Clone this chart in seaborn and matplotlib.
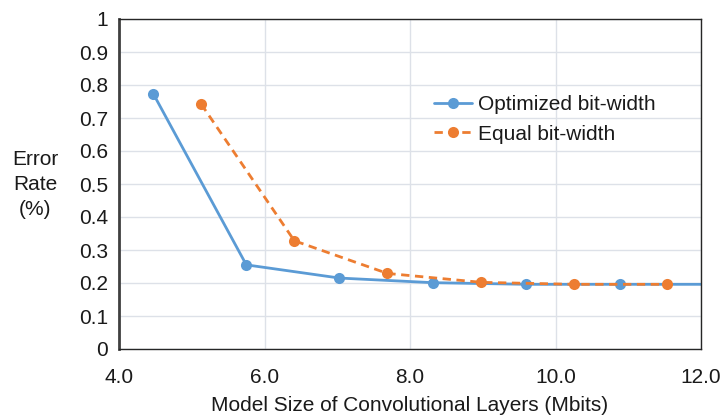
import matplotlib
matplotlib.use("Agg")
import matplotlib.pyplot as plt
import seaborn as sns
import pandas as pd

# Data
opt_size = [4.47, 5.75, 7.03, 8.31, 9.60, 10.88, 12.16]
opt_err = [0.774, 0.255, 0.215, 0.201, 0.196, 0.196, 0.196]
eq_size = [5.13, 6.41, 7.69, 8.98, 10.25, 11.53]
eq_err = [0.742, 0.328, 0.229, 0.202, 0.196, 0.196]
series_names = ["Optimized bit-width", "Equal bit-width"]
x_ticks = [4.0, 6.0, 8.0, 10.0, 12.0]
y_ticks = [0, 0.1, 0.2, 0.3, 0.4, 0.5, 0.6, 0.7, 0.8, 0.9, 1]

df = pd.concat([
    pd.DataFrame({"size": opt_size, "err": opt_err, "series": series_names[0]}),
    pd.DataFrame({"size": eq_size, "err": eq_err, "series": series_names[1]}),
], ignore_index=True)

sns.set_style("white")
plt.rcParams["font.family"] = ["Liberation Sans", "DejaVu Sans"]
plt.rcParams["text.color"] = "#1a1a1a"
plt.rcParams["xtick.color"] = "#1a1a1a"
plt.rcParams["ytick.color"] = "#1a1a1a"
plt.rcParams["axes.labelcolor"] = "#1a1a1a"

FS = 15

fig = plt.figure(figsize=(7.25, 4.18), dpi=100)
ax = fig.add_axes([119/725, 1-349/418, (701-119)/725, (349-19)/418])

palette = {series_names[0]: "#5B9BD5", series_names[1]: "#ED7D31"}
sns.lineplot(data=df, x="size", y="err", hue="series", style="series",
             palette=palette, dashes={series_names[0]: "", series_names[1]: (3, 2)},
             markers={series_names[0]: "o", series_names[1]: "o"},
             markersize=8, markeredgewidth=0, linewidth=2.0, sort=False,
             ax=ax)

ax.set_xlim(4.0, 12.0)
ax.set_ylim(0, 1)
ax.set_xticks(x_ticks)
ax.set_xticklabels([f"{t:.1f}" for t in x_ticks], fontsize=FS)
ax.set_yticks(y_ticks)
ax.set_yticklabels([f"{t:g}" for t in y_ticks], fontsize=FS)
ax.tick_params(axis="x", length=0, pad=13.5)
ax.tick_params(axis="y", length=0, pad=8)
ax.grid(True, color="#DDE1E8", linewidth=1.0)
ax.set_axisbelow(True)
for s in ax.spines.values():
    s.set_color("#262626")
    s.set_linewidth(1.0)
ax.spines["left"].set_linewidth(2.0)
ax.spines["left"].set_color("#404040")

ax.set_xlabel("Model Size of Convolutional Layers (Mbits)", fontsize=FS, labelpad=7)
ax.set_ylabel("")
fig.text(35/725, 1-185/418, "Error\nRate\n(%)", ha="center", va="center",
         fontsize=FS, linespacing=1.4)

leg = ax.legend(loc="upper left", bbox_to_anchor=((426-119)/582, (349-87)/330),
                frameon=False, fontsize=FS, handlelength=1.8, handletextpad=0.3,
                labelspacing=0.5, borderaxespad=0)

fig.savefig("out.png", dpi=100)
